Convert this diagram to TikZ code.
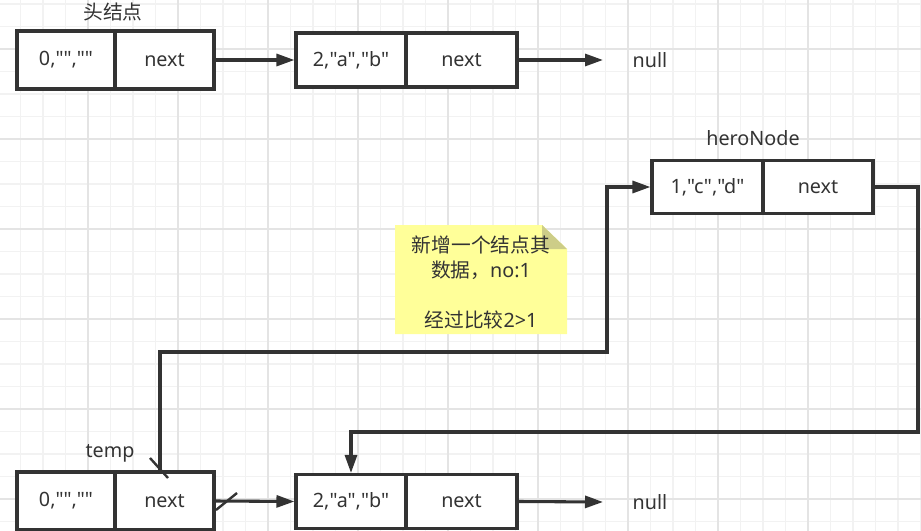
\documentclass[tikz,border=0pt]{standalone}
\usepackage{fontspec}
\setmainfont{Noto Sans}[Ligatures=TeXOff]
\newfontfamily\cjk{Noto Sans CJK SC}[Ligatures=TeXOff]
\usetikzlibrary{arrows.meta,calc}
\definecolor{ink}{HTML}{333333}
\definecolor{gridminor}{HTML}{F2F2F2}
\definecolor{gridmajor}{HTML}{E4E4E4}
\definecolor{notefill}{HTML}{FFFF99}
\definecolor{notefold}{HTML}{CDCD88}
\tikzset{
  cell/.style={draw=ink, line width=2.3pt, fill=white, text=ink, inner sep=0pt,
    font=\fontsize{14.8}{17}\selectfont},
  lbl/.style={text=ink, inner sep=1pt, font=\fontsize{14.8}{17}\selectfont},
  link/.style={draw=ink, line width=2.3pt, -{Triangle[length=13.5pt,width=9pt]}},
  tick/.style={draw=ink, line width=1.8pt},
}
\begin{document}
\begin{tikzpicture}[x=0.75pt,y=-0.75pt]
\useasboundingbox (0,0) rectangle (921,531);
\fill[white] (0,0) rectangle (921,531);
% grid
\foreach \i in {0,...,40} {
  \pgfmathsetmacro{\gx}{20.5+22.5*\i}
  \draw[gridminor, line width=0.8pt] (\gx,0) -- (\gx,531);
}
\foreach \i in {0,...,23} {
  \pgfmathsetmacro{\gy}{4+22.5*\i}
  \draw[gridminor, line width=0.8pt] (0,\gy) -- (921,\gy);
}
\foreach \i in {0,...,9} {
  \pgfmathsetmacro{\gx}{88+90*\i-90}
  \draw[gridmajor, line width=0.9pt] (\gx,0) -- (\gx,531);
}
\foreach \i in {0,...,5} {
  \pgfmathsetmacro{\gy}{49+90*\i}
  \draw[gridmajor, line width=0.9pt] (0,\gy) -- (921,\gy);
}

% top row
\node[cell, minimum width=98*0.75pt, minimum height=58*0.75pt] (h0) at (66,60) {0,"",""};
\node[cell, minimum width=99*0.75pt, minimum height=58*0.75pt] (h1) at (164.5,60) {next};
\node[cell, minimum width=110*0.75pt, minimum height=54*0.75pt] (a0) at (351,60) {2,"a","b"};
\node[cell, minimum width=111*0.75pt, minimum height=54*0.75pt] (a1) at (461.5,60) {next};
\node[lbl] (null1) at (650,60) {null};
\node[lbl, font=\cjk\fontsize{14.8}{17}\selectfont] (headlbl) at (113,12) {头结点};
\coordinate (n1end) at (603,60);

% heroNode
\node[cell, minimum width=111*0.75pt, minimum height=53*0.75pt] (c0) at (707.5,187) {1,"c","d"};
\node[cell, minimum width=110*0.75pt, minimum height=53*0.75pt] (c1) at (818,187) {next};
\node[lbl] (herolbl) at (753,138) {heroNode};

% bottom row
\node[cell, minimum width=98*0.75pt, minimum height=58*0.75pt] (t0) at (66,501) {0,"",""};
\node[cell, minimum width=99*0.75pt, minimum height=58*0.75pt] (t1) at (164.5,501) {next};
\node[cell, minimum width=110*0.75pt, minimum height=54*0.75pt] (b0) at (351,501.5) {2,"a","b"};
\node[cell, minimum width=111*0.75pt, minimum height=54*0.75pt] (b1) at (461.5,501.5) {next};
\node[lbl] (null2) at (650,502) {null};
\node[lbl] (templbl) at (110,453) {temp};
\coordinate (n2end) at (603,502);

% note
\path[fill=notefill] (395,225) -- (542,225) -- (567,249) -- (567,334) -- (395,334) -- cycle;
\path[fill=notefold] (542,225) -- (542,249) -- (567,249) -- cycle;
\node[text=ink, align=center, font=\fontsize{14.8}{18.75}\selectfont, inner sep=0pt] (note) at (481,282)
  {{\cjk 新增一个结点其}\\{\cjk 数据，}no:1\\\mbox{}\\{\cjk 经过比较}2>1};

% connectors
\coordinate (tstart) at (160,472);
\coordinate (tc1) at (160,352);
\coordinate (tc2) at (607,352);
\coordinate (tc3) at (607,187);
\draw[link] (h1.east) -- (a0.west);
\draw[link] (a1.east) -- (n1end);
\draw[link] (tstart) -- (tc1) -- (tc2) -- (tc3) -- (c0.west);
\coordinate (hc1) at (918,187);
\coordinate (hc2) at (918,432);
\coordinate (hc3) at (351,432);
\draw[link] (c1.east) -- (hc1) -- (hc2) -- (hc3) -- (b0.north);
\draw[link] (t1.east) -- (b0.west);
\draw[link] (b1.east) -- (n2end);

% cross-out ticks
\coordinate (k1a) at (150,458);
\coordinate (k1b) at (168,478);
\coordinate (k2a) at (216,510);
\coordinate (k2b) at (237,493);
\draw[tick] (k1a) -- (k1b);
\draw[tick] (k2a) -- (k2b);
\end{tikzpicture}
\end{document}
